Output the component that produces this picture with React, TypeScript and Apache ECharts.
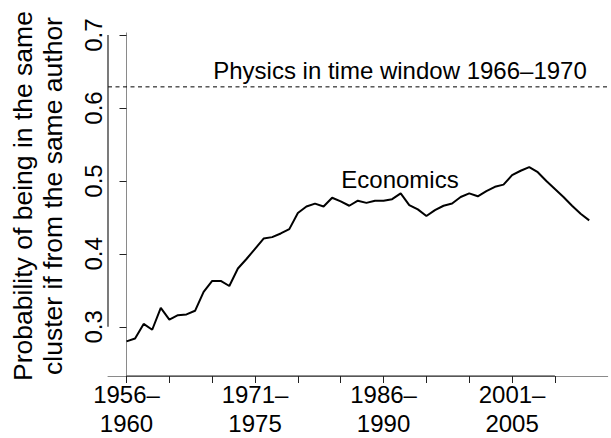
import React, { useEffect, useRef } from "react";
import * as echarts from "echarts";

// Start year of each 5-year time window (1956–1960 ... 2010–2014)
const windowStarts: number[] = Array.from({ length: 55 }, (_, i) => 1956 + i);

const economics: number[] = [
  0.280, 0.284, 0.304, 0.296, 0.326, 0.310, 0.316, 0.317, 0.322, 0.348,
  0.363, 0.363, 0.356, 0.380, 0.393, 0.407, 0.421, 0.423, 0.428, 0.434,
  0.456, 0.465, 0.469, 0.465, 0.477, 0.472, 0.466, 0.473, 0.470, 0.473,
  0.473, 0.475, 0.483, 0.467, 0.461, 0.452, 0.460, 0.466, 0.469, 0.478,
  0.483, 0.479, 0.486, 0.492, 0.495, 0.508, 0.514, 0.519, 0.512, 0.500,
  0.489, 0.478, 0.466, 0.455, 0.446,
];

const physicsValue = 0.629;

const xTickIdx: number[] = [0, 5, 10, 15, 20, 25, 30, 35, 40, 45, 50];
const xLabelIdx: number[] = [0, 15, 30, 45];
const xTickLabels: string[] = ["1956–\n1960", "1971–\n1975", "1986–\n1990", "2001–\n2005"];
const yTicks: number[] = [0.3, 0.4, 0.5, 0.6, 0.7];

const X_MIN = -2.16;
const X_MAX = 56.16;
const Y_MIN = 0.2326;
const Y_MAX = 0.703;

const FONT = "Liberation Sans, Arial, Helvetica, sans-serif";

export default function App() {
  const ref = useRef<HTMLDivElement>(null);
  useEffect(() => {
    if (!ref.current) return;
    const chart = echarts.init(ref.current, undefined, { renderer: "svg" });
    const econData = economics.map((v, i) => [i, v]);
    chart.setOption({
      animation: false,
      backgroundColor: "#ffffff",
      grid: { left: 108, right: 3.3, top: 32.9, bottom: 60.3, containLabel: false },
      xAxis: {
        type: "value",
        min: X_MIN,
        max: X_MAX,
        splitLine: { show: false },
        axisLine: { show: true, lineStyle: { color: "#8a8a8a", width: 1 } },
        axisTick: {
          show: true,
          length: 7,
          customValues: xTickIdx,
          lineStyle: { color: "#222", width: 1 },
        },
        axisLabel: {
          customValues: xLabelIdx,
          margin: 4,
          fontFamily: FONT,
          fontSize: 24,
          lineHeight: 29,
          color: "#000",
          formatter: (v: number) => {
            const k = xLabelIdx.indexOf(Math.round(v));
            return k >= 0 ? xTickLabels[k] : "";
          },
        },
      },
      yAxis: {
        type: "value",
        min: Y_MIN,
        max: Y_MAX,
        splitLine: { show: false },
        axisLine: { show: true, lineStyle: { color: "#8a8a8a", width: 1 } },
        axisTick: {
          show: true,
          length: 7,
          customValues: yTicks,
          lineStyle: { color: "#222", width: 1 },
        },
        axisLabel: {
          customValues: yTicks,
          rotate: 90,
          margin: 3,
          fontFamily: FONT,
          fontSize: 24,
          color: "#000",
          formatter: (v: number) => v.toFixed(1),
        },
      },
      graphic: [
        {
          type: "text",
          x: 37.5,
          y: 196,
          rotation: Math.PI / 2,
          style: {
            text: "Probability of being in the same\ncluster if from the same author",
            font: `26.5px ${FONT}`,
            fill: "#000",
            align: "center",
            verticalAlign: "middle",
            lineHeight: 30,
          },
        },
        {
          type: "text",
          x: 400,
          y: 70,
          style: {
            text: "Physics in time window 1966–1970",
            font: `24px ${FONT}`,
            fill: "#000",
            align: "center",
            verticalAlign: "middle",
          },
        },
        {
          type: "text",
          x: 400,
          y: 179.4,
          style: {
            text: "Economics",
            font: `24px ${FONT}`,
            fill: "#000",
            align: "center",
            verticalAlign: "middle",
          },
        },
      ],
      series: [
        {
          name: "Economics",
          type: "line",
          data: econData,
          showSymbol: false,
          symbol: "none",
          lineStyle: { color: "#000", width: 2 },
        },
        {
          name: "Physics 1966–1970",
          type: "line",
          data: [
            [X_MIN, physicsValue],
            [X_MAX, physicsValue],
          ],
          symbol: "none",
          lineStyle: { color: "#000", width: 1, type: [4, 3.5] },
        },
        {
          name: "x axis segment",
          type: "line",
          data: [
            [xTickIdx[0], Y_MIN],
            [xTickIdx[xTickIdx.length - 1], Y_MIN],
          ],
          symbol: "none",
          clip: false,
          silent: true,
          lineStyle: { color: "#222", width: 1.2 },
        },
        {
          name: "y axis segment",
          type: "line",
          data: [
            [X_MIN, yTicks[0]],
            [X_MIN, yTicks[yTicks.length - 1]],
          ],
          symbol: "none",
          clip: false,
          silent: true,
          lineStyle: { color: "#222", width: 1.2 },
        },
      ],
    });
    void windowStarts;
    return () => chart.dispose();
  }, []);
  return <div ref={ref} style={{ width: 611, height: 438, position: "absolute", left: 0, top: 0 }} />;
}
